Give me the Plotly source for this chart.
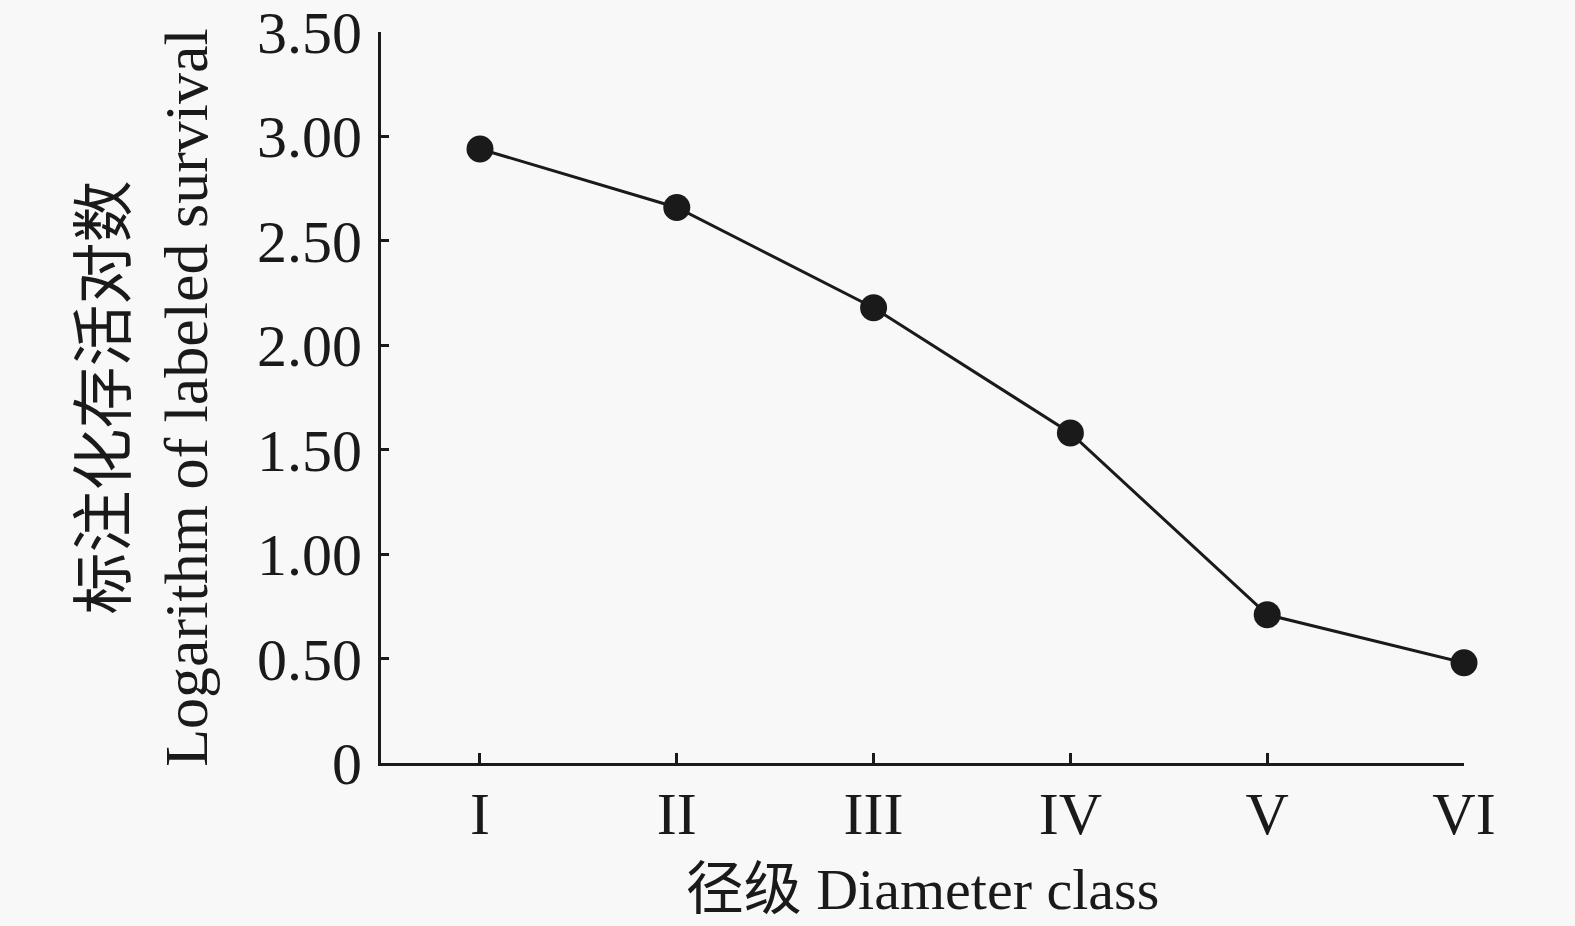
import plotly.graph_objects as go

categories = ["I", "II", "III", "IV", "V", "VI"]
log_survival = [2.94, 2.66, 2.18, 1.58, 0.71, 0.48]
y_tickvals = [0, 0.5, 1.0, 1.5, 2.0, 2.5, 3.0, 3.5]
y_ticktext = ["0", "0.50", "1.00", "1.50", "2.00", "2.50", "3.00", "3.50"]

FONT = "Liberation Serif, Times New Roman, Noto Sans CJK SC, serif"
INK = "#1a1a1a"
BG = "#f8f8f8"

fig = go.Figure(
    go.Scatter(
        x=list(range(len(categories))),
        y=log_survival,
        mode="lines+markers",
        line=dict(color=INK, width=3),
        marker=dict(color=INK, size=27),
        cliponaxis=False,
    )
)

fig.update_layout(
    width=1575,
    height=926,
    paper_bgcolor=BG,
    plot_bgcolor=BG,
    showlegend=False,
    margin=dict(l=381, r=111, t=32, b=163, autoexpand=False),
    font=dict(family=FONT, size=58, color=INK),
)

fig.update_xaxes(
    range=[-0.503, 5],
    tickvals=list(range(len(categories))),
    ticktext=categories,
    showgrid=False,
    zeroline=False,
    showline=True,
    linecolor=INK,
    linewidth=3,
    ticks="inside",
    ticklen=10,
    tickwidth=2.5,
    tickcolor=INK,
    ticklabelstandoff=-4,
    automargin=False,
    tickfont=dict(family=FONT, size=60, color=INK),
    title=dict(text="径级 Diameter class", font=dict(family=FONT, size=58, color=INK), standoff=23),
)

fig.update_yaxes(
    range=[0, 3.5],
    tickvals=y_tickvals,
    ticktext=y_ticktext,
    showgrid=False,
    zeroline=False,
    showline=True,
    linecolor=INK,
    linewidth=3,
    ticks="inside",
    ticklen=8,
    tickwidth=2.5,
    tickcolor=INK,
    ticklabelstandoff=4,
    automargin=False,
    tickfont=dict(family=FONT, size=60, color=INK),
    title=dict(
        text="标注化存活对数<br>Logarithm of labeled survival",
        font=dict(family=FONT, size=62, color=INK),
        standoff=30,
    ),
)

fig.write_html(
    "out.html",
    config={"displayModeBar": False},
    post_script="document.body.style.margin='0';document.body.style.overflow='hidden';document.body.style.background='#f8f8f8';",
)
